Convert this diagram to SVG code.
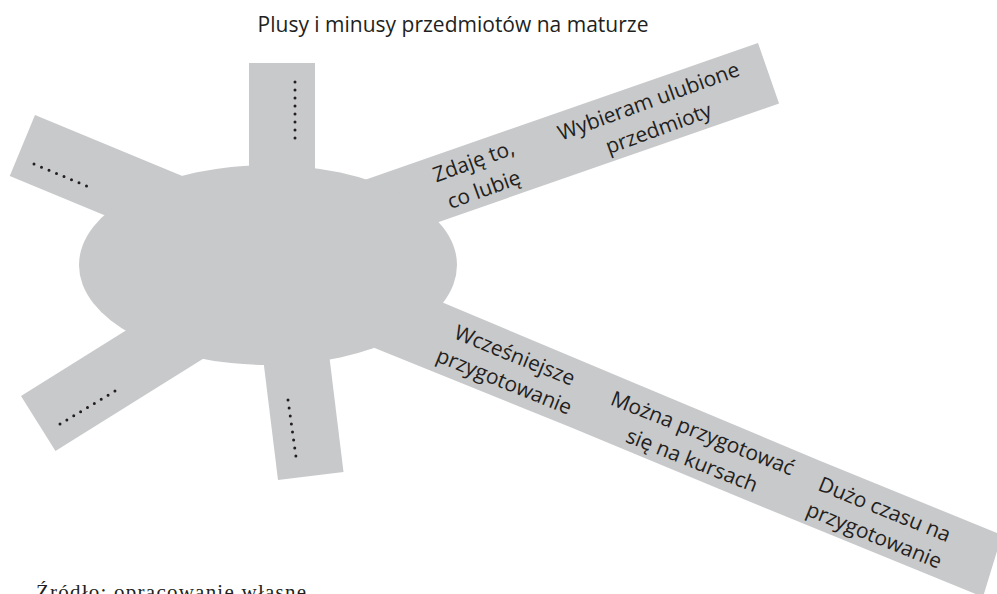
<svg xmlns="http://www.w3.org/2000/svg" width="997" height="594" viewBox="0 0 997 594">
<style>
.shape{fill:#c8c9cb;}
.lbl{font-family:"Open Sans","Noto Sans","DejaVu Sans",sans-serif;font-size:21px;fill:#231f20;text-anchor:middle;}
.dots{fill:none;stroke:#231f20;stroke-width:3;stroke-linecap:round;}
.src{font-family:"Liberation Serif","DejaVu Serif",serif;font-size:21px;fill:#231f20;}
</style>
<rect width="997" height="594" fill="#ffffff"/>
<text id="title" class="lbl" x="453" y="32">Plusy i minusy przedmiotów na maturze</text>
<g id="arm-top">
  <rect class="shape" x="249" y="63" width="66" height="140"/>
  <line class="dots" x1="295" y1="82" x2="295" y2="146" stroke-dasharray="0 8"/>
</g>
<g id="arm-upper-left">
  <rect class="shape" transform="translate(35,115) rotate(22.5)" x="0" y="0" width="260" height="66"/>
  <line class="dots" x1="34" y1="164" x2="94" y2="189" stroke-dasharray="0 8.125"/>
</g>
<g id="arm-lower-left">
  <rect class="shape" transform="translate(21,396) rotate(-32)" x="0" y="0" width="260" height="65"/>
  <line class="dots" x1="60" y1="424" x2="115" y2="391" stroke-dasharray="0 8.01"/>
</g>
<g id="arm-bottom">
  <rect class="shape" transform="translate(278,480) rotate(-7)" x="0" y="-150" width="66" height="150"/>
  <line class="dots" x1="288" y1="400" x2="297" y2="464" stroke-dasharray="0 8.08"/>
</g>
<g id="arm-upper-right">
  <rect class="shape" transform="translate(758,43) rotate(-19.2)" x="-500" y="0" width="500" height="64"/>
  <text class="lbl" transform="translate(476,168) rotate(-20)"><tspan x="0" y="0">Zdaję to,</tspan><tspan x="0" y="30">co lubię</tspan></text>
  <text class="lbl" transform="translate(651,108) rotate(-20)"><tspan x="0" y="0">Wybieram ulubione</tspan><tspan x="0" y="29">przedmioty</tspan></text>
</g>
<g id="arm-lower-right">
  <polygon class="shape" points="420,293 632,382 818,460 1002,535 983,597 753,503 570,427 340,334"/>
  <text class="lbl" transform="translate(512,362) rotate(22)"><tspan x="0" y="0">Wcześniejsze</tspan><tspan x="0" y="28">przygotowanie</tspan></text>
  <text class="lbl" transform="translate(700,440) rotate(21.5)"><tspan x="0" y="0">Można przygotować</tspan><tspan x="0" y="29">się na kursach</tspan></text>
  <text class="lbl" transform="translate(882,516) rotate(22)"><tspan x="0" y="0">Dużo czasu na</tspan><tspan x="0" y="28">przygotowanie</tspan></text>
</g>
<g id="hub">
  <ellipse class="shape" cx="268" cy="265" rx="189" ry="100"/>
</g>
<g id="connectors"></g>
<text id="source" class="src" x="36" y="599" textLength="270" lengthAdjust="spacing">Źródło: opracowanie własne</text>
</svg>
